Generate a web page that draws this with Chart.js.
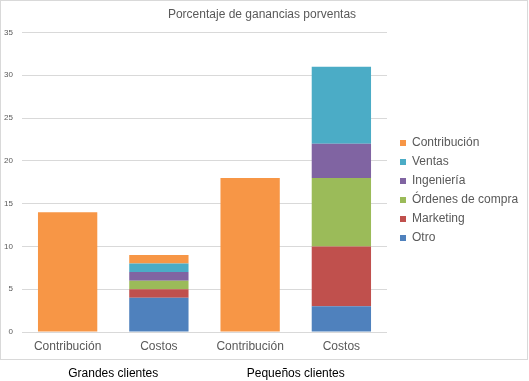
<!DOCTYPE html>
<html>
<head>
<meta charset="utf-8">
<script src="https://cdn.jsdelivr.net/npm/chart.js@4"></script>
<style>
  html, body { margin: 0; padding: 0; background: #fff; }
  #wrap { width: 529px; height: 381px; }
</style>
</head>
<body>
<div id="wrap"><canvas id="myChart" width="529" height="381"></canvas></div>
<script>
// Data
const categories = ['Contribución', 'Costos', 'Contribución', 'Costos'];
const groups = ['Grandes clientes', 'Pequeños clientes'];
const otro = [0, 4, 0, 3];
const marketing = [0, 1, 0, 7];
const ordenes = [0, 1, 0, 8];
const ingenieria = [0, 1, 0, 4];
const ventas = [0, 1, 0, 9];
const contribucion = [14, 1, 18, 0];
const yTicks = [0, 5, 10, 15, 20, 25, 30, 35];

const textColor = '#595959';
const fontFamily = '"Liberation Sans", Arial, sans-serif';
const legendGap = 6;

const makeSet = (label, data, color) => ({
  label: label,
  data: data,
  backgroundColor: color,
  borderWidth: 0,
  barPercentage: 0.65,
  categoryPercentage: 1
});

// draws the outer frame like the original chart box
const framePlugin = {
  id: 'frame',
  beforeDraw: (chart) => {
    const ctx = chart.ctx;
    ctx.save();
    ctx.fillStyle = '#ffffff';
    ctx.fillRect(0, 0, chart.width, chart.height);
    ctx.strokeStyle = '#d9d9d9';
    ctx.lineWidth = 1;
    ctx.strokeRect(0.5, 0.5, 527, 359);
    ctx.restore();
  }
};

// leaves some extra room between the plot and the legend
const legendGapPlugin = {
  id: 'legendGap',
  afterInit: (chart) => {
    const legend = chart.legend;
    const fit = legend.fit;
    legend.fit = function () {
      fit.call(this);
      this.width += legendGap;
    };
  },
  afterLayout: (chart) => {
    chart.legend.left += legendGap;
  }
};

const chartCtx = document.getElementById('myChart').getContext('2d');
const chart = new Chart(chartCtx, {
  type: 'bar',
  data: {
    labels: categories,
    datasets: [
      makeSet('Otro', otro, '#4F81BD'),
      makeSet('Marketing', marketing, '#C0504D'),
      makeSet('Órdenes de compra', ordenes, '#9BBB59'),
      makeSet('Ingeniería', ingenieria, '#8064A2'),
      makeSet('Ventas', ventas, '#4BACC6'),
      makeSet('Contribución', contribucion, '#F79646')
    ]
  },
  options: {
    responsive: false,
    animation: false,
    layout: {
      padding: { left: 0, right: 5, top: 0, bottom: 0 }
    },
    plugins: {
      title: {
        display: true,
        text: 'Porcentaje de ganancias porventas',
        color: textColor,
        font: { family: fontFamily, size: 12, weight: 'normal' },
        padding: { top: 7, bottom: 11 }
      },
      legend: {
        display: true,
        position: 'right',
        reverse: true,
        labels: {
          color: textColor,
          font: { family: fontFamily, size: 12 },
          boxWidth: 6,
          boxHeight: 6,
          padding: 7
        }
      },
      tooltip: { enabled: false }
    },
    scales: {
      x: {
        stacked: true,
        grid: { display: false, drawTicks: false },
        border: { display: false },
        afterFit: (axis) => { axis.height = 21; },
        ticks: {
          color: textColor,
          font: { family: fontFamily, size: 12 },
          padding: 7
        }
      },
      x2: {
        type: 'category',
        labels: groups,
        position: 'bottom',
        offset: true,
        grid: { display: false, drawTicks: false },
        border: { display: false },
        afterFit: (axis) => { axis.height = 28; },
        ticks: {
          color: '#000000',
          font: { family: fontFamily, size: 12 },
          padding: 13
        }
      },
      y: {
        stacked: true,
        min: 0,
        max: 35,
        afterBuildTicks: (axis) => {
          axis.ticks = yTicks.map(v => ({ value: v }));
        },
        afterFit: (axis) => { axis.width = 22; },
        grid: { color: '#d9d9d9', lineWidth: 1, drawTicks: false },
        border: { display: false },
        ticks: {
          color: textColor,
          font: { family: fontFamily, size: 8 },
          padding: 9
        }
      }
    }
  },
  plugins: [framePlugin, legendGapPlugin]
});
</script>
</body>
</html>
